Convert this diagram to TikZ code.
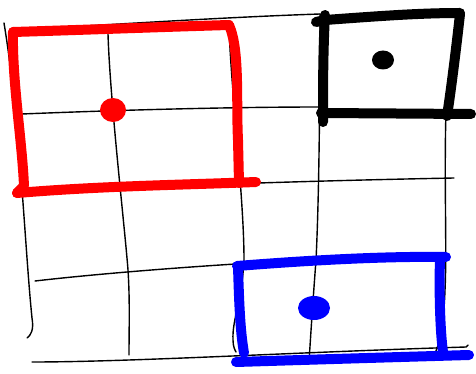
\documentclass[tikz,border=0pt]{standalone}
\usetikzlibrary{calc}
\begin{document}
\begin{tikzpicture}[x=1pt,y=-1pt,
  grid/.style={line width=1.4pt,black,line cap=round},
  redbox/.style={line width=10pt,red,line cap=round,line join=round},
  blackbox/.style={line width=10pt,black,line cap=round,line join=round},
  bluebox/.style={line width=10pt,blue,line cap=round,line join=round}]
\useasboundingbox (0,0) rectangle (476,374);
% thin grid
\draw[grid] (19,30) .. controls (120,24) and (230,17) .. (320,14);
\draw[grid] (22,114) .. controls (120,110) and (230,107) .. (321,107);
\draw[grid] (28,193) .. controls (150,186) and (300,181) .. (454,178);
\draw[grid] (35,281) .. controls (130,270) and (300,258) .. (436,255);
\draw[grid] (32,362) .. controls (130,362) and (300,352) .. (466,347) -- (468,345);
\draw[grid] (4,23) .. controls (20,120) and (25,250) .. (32,318) .. controls (34,330) and (31,335) .. (27,338);
\draw[grid] (108,34) .. controls (110,100) and (125,230) .. (128,270) .. controls (130,300) and (129,330) .. (129,355);
\draw[grid] (229,29) .. controls (232,100) and (244,200) .. (244,260) .. controls (242,300) and (232,320) .. (233,340) .. controls (233,347) and (235,350) .. (236,352);
\draw[grid] (320,14) .. controls (320,100) and (319,200) .. (316,260) .. controls (313,300) and (311,330) .. (309,362);
\draw[grid] (446,110) .. controls (444,180) and (447,250) .. (445,290) .. controls (444,320) and (440,345) .. (434,355);
% red box
\draw[redbox] (13,32) .. controls (80,30) and (160,27) .. (229,25);
\draw[redbox] (229,25) .. controls (240,50) and (236,100) .. (238,140) -- (239,183);
\draw[redbox] (256,182) .. controls (180,185) and (100,186) .. (17,193);
\draw[redbox] (17,193) -- (24,186) .. controls (22,140) and (12,80) .. (13,32);
\fill[red] (113,110) ellipse (13pt and 12pt);
% black box
\draw[blackbox] (316,22) -- (325,20) .. controls (380,16) and (420,13) .. (460,13);
\draw[blackbox] (325,15) .. controls (323,50) and (323,90) .. (323,122);
\draw[blackbox] (460,14) .. controls (456,50) and (451,90) .. (447,116);
\draw[blackbox] (321,113) -- (471,114);
\fill[black] (383,60) ellipse (11pt and 9.5pt);
% blue box
\draw[bluebox] (237,266) .. controls (300,261) and (380,256) .. (446,257);
\draw[bluebox] (238,266) .. controls (239,300) and (240,330) .. (244,353);
\draw[bluebox] (440,258) .. controls (439,290) and (440,330) .. (443,352);
\draw[bluebox] (236,362) .. controls (300,360) and (400,357) .. (469,355);
\fill[blue] (314,308) ellipse (16pt and 12pt);
\end{tikzpicture}
\end{document}
